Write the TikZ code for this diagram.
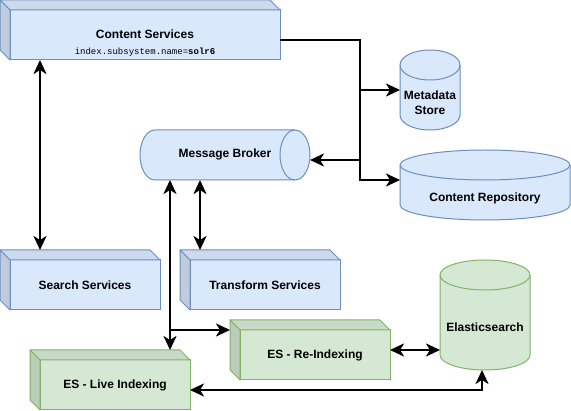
\documentclass[tikz,border=0pt]{standalone}
\usepackage{fontspec}
\setmainfont{Liberation Sans}
\setmonofont{Liberation Mono}
\usetikzlibrary{arrows.meta,calc}
\definecolor{bfill}{HTML}{DAE8FC}
\definecolor{bline}{HTML}{6C8EBF}
\definecolor{btop}{HTML}{CDDAED}
\definecolor{bside}{HTML}{C0CCDE}
\definecolor{gfill}{HTML}{D5E8D4}
\definecolor{gline}{HTML}{82B366}
\definecolor{gtop}{HTML}{C8DAC7}
\definecolor{gside}{HTML}{BBCCBA}
\newcommand{\cubefaces}[4]{%
  \filldraw[fill=#2,draw=#4,line width=1pt,line join=round] (#1.north west) -- ++(-10pt,10pt) -- ($(#1.north east)+(-10pt,10pt)$) -- (#1.north east) -- cycle;
  \filldraw[fill=#3,draw=#4,line width=1pt,line join=round] (#1.north west) -- ++(-10pt,10pt) -- ($(#1.south west)+(-10pt,10pt)$) -- (#1.south west) -- cycle;
}
\newcommand{\vcyl}[4]{%
  \filldraw[fill=#3,draw=#4,line width=1pt] ([yshift=-15pt]#1.north west) -- ([yshift=15pt]#1.south west) arc[start angle=180,end angle=360,x radius=#2pt,y radius=15pt] -- ([yshift=-15pt]#1.north east) arc[start angle=0,end angle=180,x radius=#2pt,y radius=15pt] -- cycle;
  \draw[draw=#4,line width=1pt] ([yshift=-15pt]#1.north west) arc[start angle=180,end angle=360,x radius=#2pt,y radius=15pt];
}
\tikzset{
  lbl/.style={font=\bfseries\fontsize{12}{15}\selectfont,align=center,inner sep=0pt},
  cubeb/.style={draw=bline,fill=bfill,line width=1pt,minimum width=150pt,minimum height=50pt,inner sep=0pt,outer sep=0pt,font=\bfseries\fontsize{12}{15}\selectfont},
  cubeg/.style={cubeb,draw=gline,fill=gfill},
  bbox/.style={minimum width=#1,inner sep=0pt,outer sep=0pt},
  tip/.tip={Stealth[length=14pt,width=13pt,inset=4pt]},
  arr/.style={line width=2.8pt,-tip},
  barr/.style={line width=2.8pt,tip-tip},
}
\begin{document}
\begin{tikzpicture}[x=1pt,y=1pt]
\useasboundingbox (0,0) rectangle (571,-411);
% cubes
\node[cubeb,minimum width=270pt] (cs) at (145,-35) {};
\cubefaces{cs}{btop}{bside}{bline}
\node[lbl] (cst) at (145,-34) {Content Services};
\node[inner sep=0pt] (csm) at (145,-52) {\fontsize{9}{11}\selectfont\ttfamily index.subsystem.name=\bfseries solr6};
\node[cubeb] (search) at (85,-285) {Search Services};
\cubefaces{search}{btop}{bside}{bline}
\node[cubeb] (transform) at (265,-285) {Transform Services};
\cubefaces{transform}{btop}{bside}{bline}
\node[cubeg] (live) at (115,-385) {ES - Live Indexing};
\cubefaces{live}{gtop}{gside}{gline}
\node[cubeg] (reindex) at (315,-355) {ES - Re-Indexing};
\cubefaces{reindex}{gtop}{gside}{gline}
% cylinders
\node[bbox=60pt,minimum height=80pt] (meta) at (430,-90) {};
\vcyl{meta}{30}{bfill}{bline}
\node[lbl] (metat) at (430,-102.5) {Metadata\\Store};
\node[bbox=170pt,minimum height=70pt] (repo) at (485,-185) {};
\vcyl{repo}{85}{bfill}{bline}
\node[lbl] (repot) at (485,-198) {Content Repository};
\node[bbox=90pt,minimum height=110pt] (es) at (485,-315) {};
\vcyl{es}{45}{gfill}{gline}
\node[lbl] (est) at (485,-327) {Elasticsearch};
\node[bbox=170pt,minimum height=50pt] (broker) at (225,-155) {};
\filldraw[fill=bfill,draw=bline,line width=1pt] ([xshift=15pt]broker.north west) -- ([xshift=-15pt]broker.north east) arc[start angle=90,end angle=-90,x radius=15pt,y radius=25pt] -- ([xshift=15pt]broker.south west) arc[start angle=270,end angle=90,x radius=15pt,y radius=25pt] -- cycle;
\draw[draw=bline,line width=1pt] ([xshift=-15pt]broker.north east) arc[start angle=90,end angle=270,x radius=15pt,y radius=25pt];
\node[lbl] (brokert) at (225,-154) {Message Broker};
% connectors
\coordinate (csr) at ([yshift=-5pt]cs.east);
\coordinate (j1) at ($(csr)+(80pt,0)$);
\draw[arr] (csr) -- (j1) |- (meta.west);
\draw[arr] (csr) -- (j1) |- ([yshift=5pt]repo.west);
\draw[arr] (j1) |- ([yshift=-5pt]broker.east);
\draw[barr] ([xshift=30pt]cs.south west) -- ([xshift=30pt,yshift=10pt]search.north west);
\coordinate (bA) at ([xshift=30pt]broker.south west);
\coordinate (liveTop) at ([yshift=10pt]live.north);
\draw[barr] (bA) -- (bA |- liveTop);
\coordinate (reL) at ([xshift=-10pt]reindex.north west);
\draw[arr] (bA |- reL) -- (reL);
\coordinate (bB) at ([xshift=60pt]broker.south west);
\coordinate (trTop) at ([yshift=10pt]transform.north);
\draw[barr] (bB) -- (bB |- trTop);
\coordinate (reR) at ([yshift=5pt]reindex.east);
\draw[barr] (reR) -- (reR -| es.west);
\coordinate (lvR) at ([yshift=-5pt]live.east);
\coordinate (esB) at ([xshift=-3pt]es.south);
\draw[barr] (lvR) -| (esB);
\end{tikzpicture}
\end{document}
